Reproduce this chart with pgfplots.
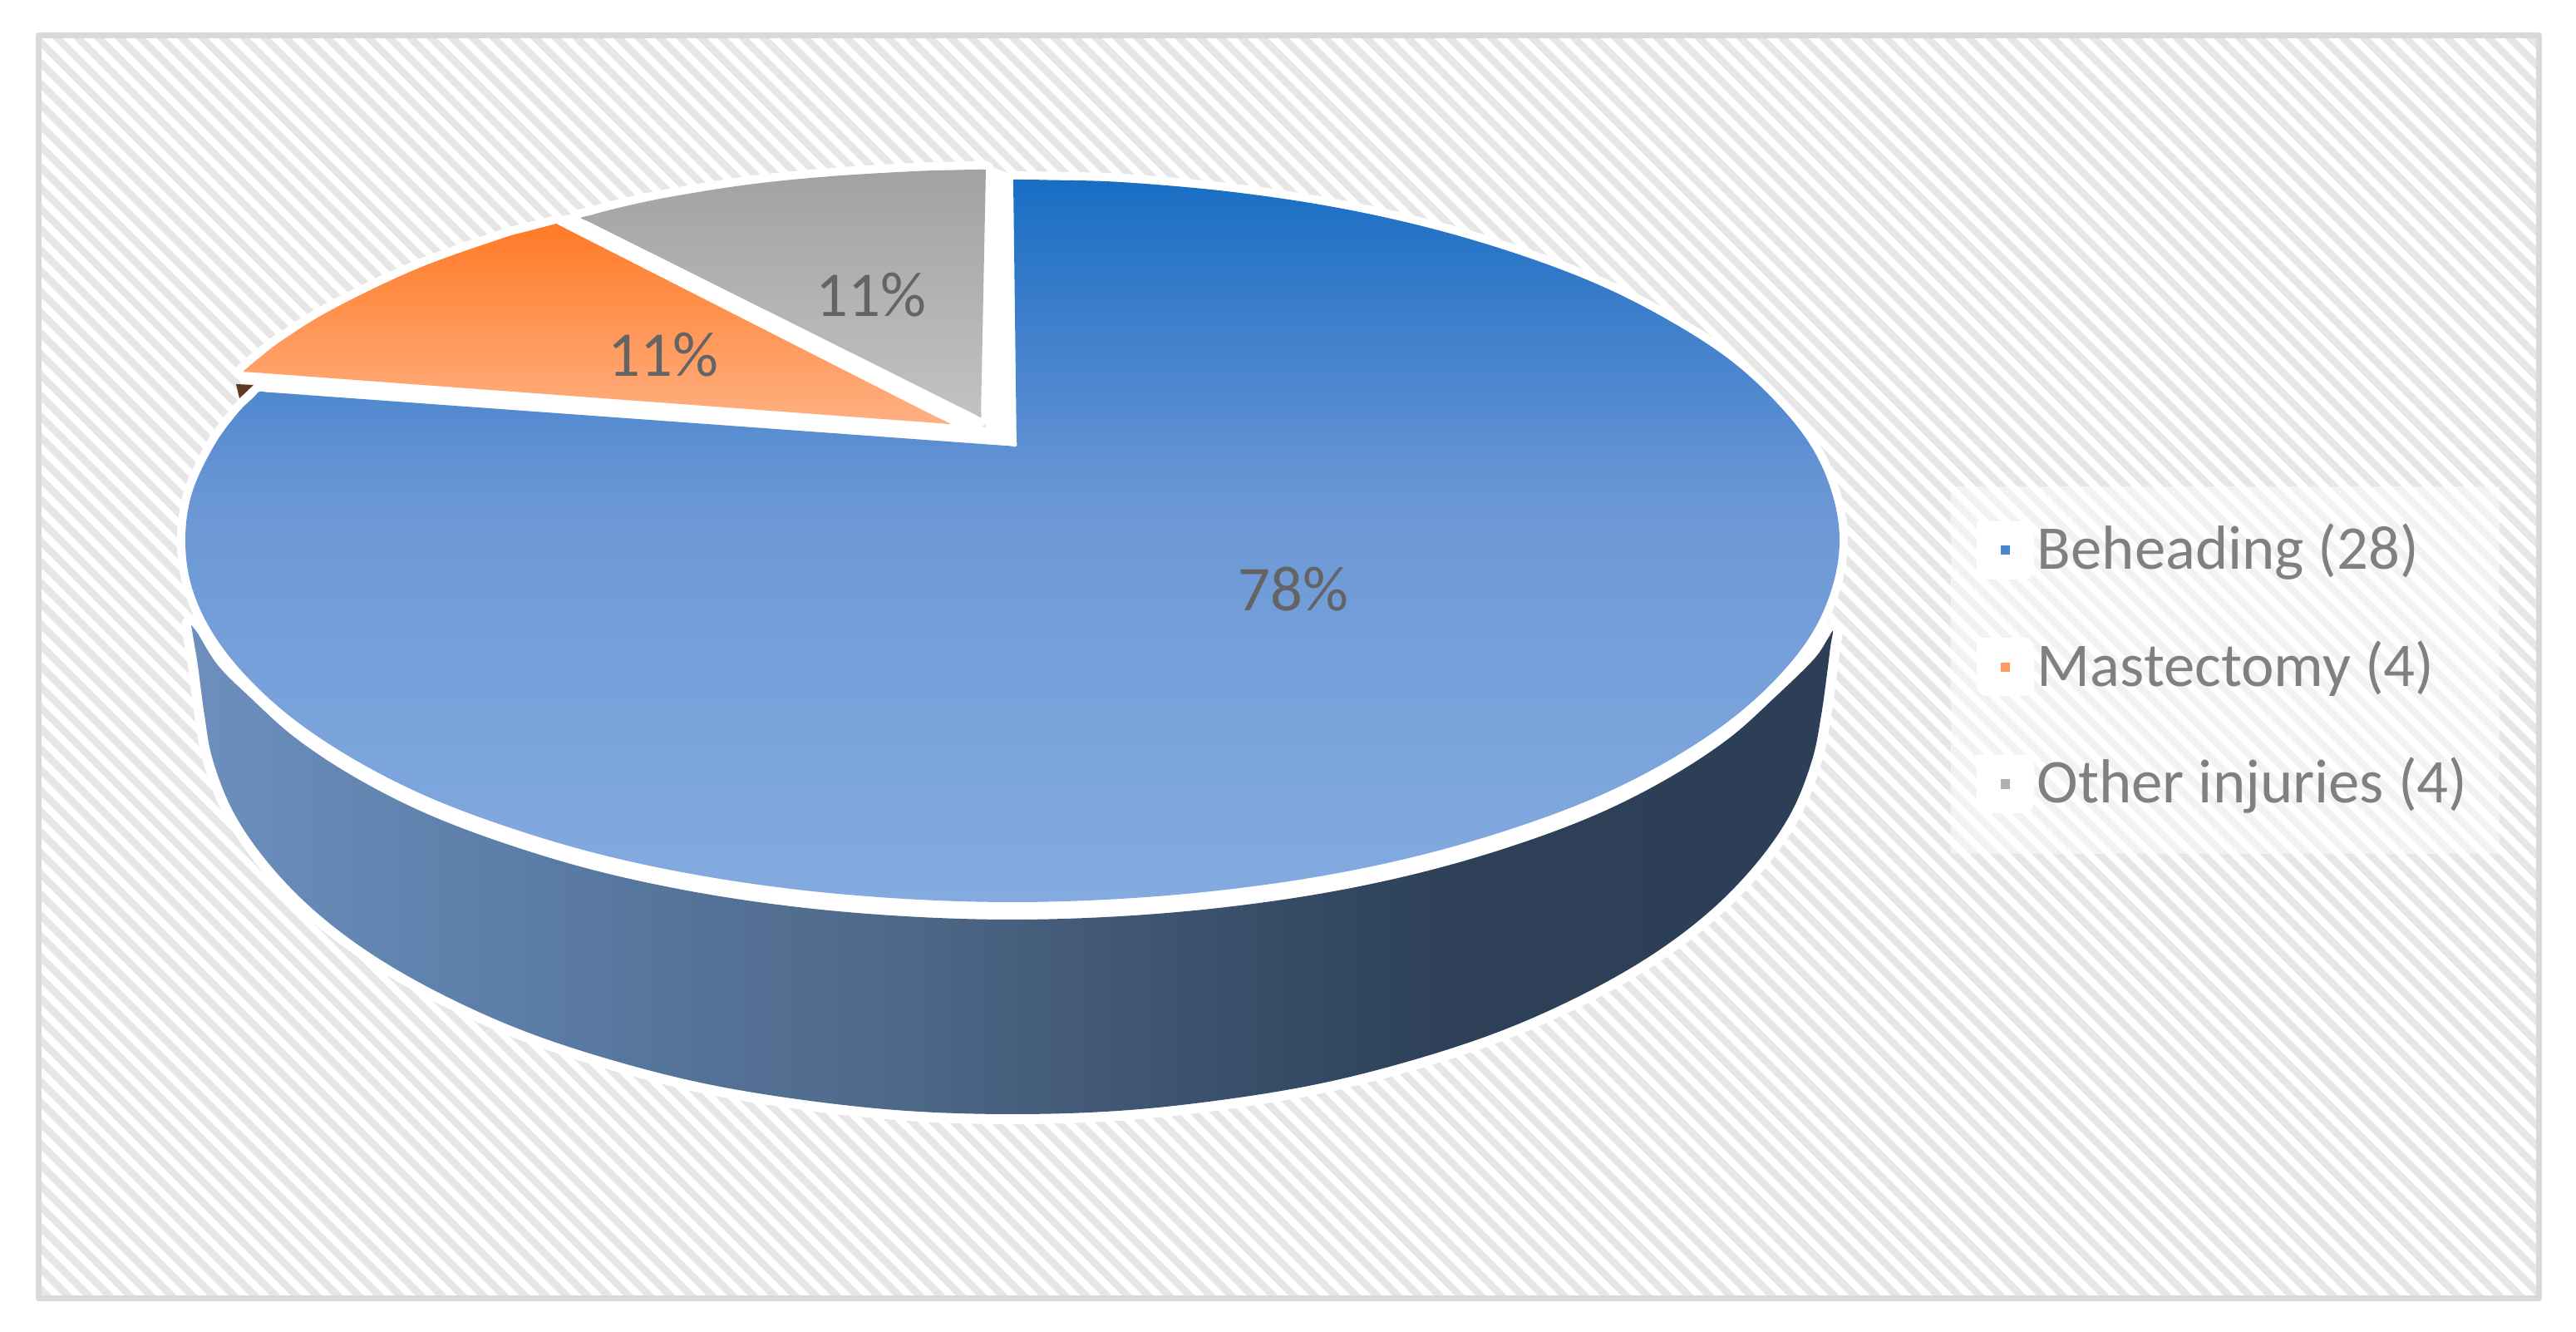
\documentclass[border=0pt]{standalone}
\usepackage{fontspec}
\setmainfont{Carlito}
\usepackage{pgfplots}
\usepackage{pgfplotstable}
\pgfplotsset{compat=1.18}
\usetikzlibrary{patterns.meta}
\definecolor{frameC}{HTML}{D9D9D9}
\definecolor{stripeC}{HTML}{E6E6E6}
\definecolor{pctC}{HTML}{646464}
\definecolor{legC}{HTML}{808080}
\definecolor{tA}{HTML}{84ABE0}
\definecolor{tB}{HTML}{76A0DA}
\definecolor{tC}{HTML}{6A97D5}
\definecolor{tD}{HTML}{4180CC}
\definecolor{tE}{HTML}{186EC4}
\definecolor{sA}{HTML}{6C8FBE}
\definecolor{sB}{HTML}{6A8CBB}
\definecolor{sC}{HTML}{5C7EA8}
\definecolor{sD}{HTML}{4D6787}
\definecolor{sE}{HTML}{334862}
\definecolor{sF}{HTML}{2E4058}
\definecolor{sG}{HTML}{2D3F57}
\definecolor{grayT}{HTML}{A2A2A2}
\definecolor{grayB}{HTML}{C2C2C2}
\definecolor{orT}{HTML}{FF7A26}
\definecolor{orB}{HTML}{FFB082}
\definecolor{brownC}{HTML}{5E3A22}
\definecolor{keyA}{HTML}{4A86D0}
\definecolor{keyB}{HTML}{FF9A5C}
\definecolor{keyC}{HTML}{B0B0B0}
\pgfdeclareverticalshading{blueTop}{100bp}{color(0bp)=(tA);color(25bp)=(tA);color(41.4bp)=(tB);color(52.9bp)=(tC);color(64.4bp)=(tD);color(75bp)=(tE);color(100bp)=(tE)}
\pgfdeclarehorizontalshading{blueSide}{100bp}{color(0bp)=(sA);color(25bp)=(sA);color(26.8bp)=(sB);color(34.4bp)=(sC);color(47bp)=(sD);color(59.7bp)=(sE);color(63.5bp)=(sF);color(75bp)=(sG);color(100bp)=(sG)}
% outlines, in pixels of the reference
\pgfplotstableread{
x y
1219 216
1229 216
1260 216.5
1348 219
1475 230
1599 248
1715 273
1824 305
1922 342
2007 385
2080 432
2137 484
2179 537
2204 593
2213 650
2204 707
2179 763
2137 816
2080 867
2007 915
1922 958
1824 995
1715 1027
1599 1052
1475 1070
1348 1081
1218 1085
1088 1081
960 1070
837 1052
720 1027
612 995
514 958
429 915
356 867
299 816
257 763
231 707
223 650
231 593
257 537
285 498
306 477
312 471
321 471.7
348.4 473.6
448.7 480.9
767.5 504
1086.4 527.1
1186.6 534.4
1213.9 536.3
1223 537
1222.9 527.4
1222.5 498.7
1221 377.5
1219.5 256.3
1219.1 227.4
1219 216
}\blueW
\pgfplotstableread{
x y
1186 204
1176 204
1150 204.5
1100 206
1000 212
900 222
800 238
740 251
710 259
699 262
708.6 266.8
737.5 281.2
819.3 322
939.5 382
1059.8 442
1141.5 482.8
1170.4 497.2
1180 502
1180.2 493
1180.7 466
1183 353
1185.3 240
1185.8 213
1186 204
}\grayW
\pgfplotstableread{
x y
669 269
660 271.5
635 278
600 288
500 324
400 372
340 409
310 432
298 442
293 447
301.5 447.6
327 449.5
420.5 456.5
718 478.5
1015.5 500.6
1109 507.5
1134.5 509.4
1143 510
1136 506
1114.6 495.5
1048.2 461.8
906 389.5
763.8 317.2
697.4 283.5
676 272.6
669 269
}\orangeW
\pgfplotstableread{
x y
230 752
233 770
238 800
246 860
256 914
281 977
322 1037
378 1095
448 1148
532 1196
628 1239
733 1274
847 1303
967 1323
1091 1336
1218 1340
1345 1336
1469 1323
1589 1303
1703 1274
1808 1239
1904 1196
1988 1148
2058 1095
2114 1037
2155 977
2180 914
2191 860
2198 810
2202 778
2205 759
2199 768
2182 793
2137 837
2080 888
2007 936
1922 979
1824 1016
1715 1048
1599 1073
1475 1091
1348 1102
1218 1106
1088 1102
960 1091
837 1073
720 1048
612 1016
514 979
429 936
356 888
299 837
262 800
238 762
230 752
}\sideW
\begin{document}
\begin{tikzpicture}
\begin{axis}[
  width=774.75pt, height=400.5pt, scale only axis,
  xmin=0, xmax=3099, ymin=0, ymax=1602, y dir=reverse,
  hide axis, clip=false, line join=round, line cap=round, tension=0.6]
% page and frame
\addplot[draw=none, fill=white, forget plot] coordinates {(0,0) (3099,0) (3099,1602) (0,1602)};
\addplot[draw=none, pattern={Lines[angle=-45,distance=4.42pt,line width=2.2pt]}, pattern color=stripeC, forget plot]
  coordinates {(46,42) (3055,42) (3055,1562) (46,1562)};
\addplot[draw=frameC, line width=1.75pt, fill=none, forget plot]
  coordinates {(46.5,42.5) (3054.5,42.5) (3054.5,1562) (46.5,1562) (46.5,42.5)};
% side wall
\addplot[smooth, tension=0.6, draw=white, line width=6pt, fill=none] table {\sideW};
\addplot[smooth, tension=0.6, draw=none, shade, shading=blueSide] table {\sideW};
% white seams between the wedges
\addplot[draw=none, fill=white] coordinates {(1223,540) (1223,212) (1186,198) (1186,515) (700,255) (665,262) (1143,515) (290,440) (300,470)};
\addplot[smooth, tension=0.6, draw=white, line width=5pt, fill=none] table {\blueW};
\addplot[smooth, tension=0.6, draw=white, line width=5pt, fill=none] table {\grayW};
\addplot[smooth, tension=0.6, draw=white, line width=5pt, fill=none] table {\orangeW};
% wedges
\addplot[smooth, tension=0.6, draw=none, shade, shading=blueTop] table {\blueW};
\addplot[smooth, tension=0.6, draw=none, top color=grayT, bottom color=grayB] table {\grayW};
\addplot[smooth, tension=0.6, draw=none, top color=orT, bottom color=orB] table {\orangeW};
\addplot[draw=none, fill=brownC] coordinates {(284,462) (305,463) (288,479)};
% legend
\addplot[draw=none, fill=white, fill opacity=0.5] coordinates {(2347,585) (3007,585) (3007,1027) (2347,1027)};
\addplot[draw=none, fill=white, rounded corners=3pt] coordinates {(2378,627) (2447,627) (2447,697) (2378,697) (2378,627)};
\addplot[draw=none, fill=white, rounded corners=3pt] coordinates {(2378,767) (2447,767) (2447,837) (2378,837) (2378,767)};
\addplot[draw=none, fill=white, rounded corners=3pt] coordinates {(2378,908) (2447,908) (2447,978) (2378,978) (2378,908)};
\addplot[draw=none, fill=keyA] coordinates {(2407,656) (2418,656) (2418,667) (2407,667)};
\addplot[draw=none, fill=keyB] coordinates {(2407,797) (2418,797) (2418,808) (2407,808)};
\addplot[draw=none, fill=keyC] coordinates {(2407,937) (2418,937) (2418,949) (2407,949)};
\node[anchor=base west, inner sep=0pt, text=legC, font=\fontsize{18.7}{19}\selectfont] at (axis cs:2450,685) {Beheading (28)};
\node[anchor=base west, inner sep=0pt, text=legC, font=\fontsize{18.7}{19}\selectfont] at (axis cs:2450,826) {Mastectomy (4)};
\node[anchor=base west, inner sep=0pt, text=legC, font=\fontsize{18.7}{19}\selectfont] at (axis cs:2450,966) {Other injuries (4)};
\node[anchor=base, inner sep=0pt, text=pctC, font=\fontsize{19.2}{19}\selectfont] at (axis cs:1556,735) {78\%};
\node[anchor=base, inner sep=0pt, text=pctC, font=\fontsize{19.2}{19}\selectfont] at (axis cs:798,453) {11\%};
\node[anchor=base, inner sep=0pt, text=pctC, font=\fontsize{19.2}{19}\selectfont] at (axis cs:1048,381) {11\%};
\end{axis}
\end{tikzpicture}
\end{document}
